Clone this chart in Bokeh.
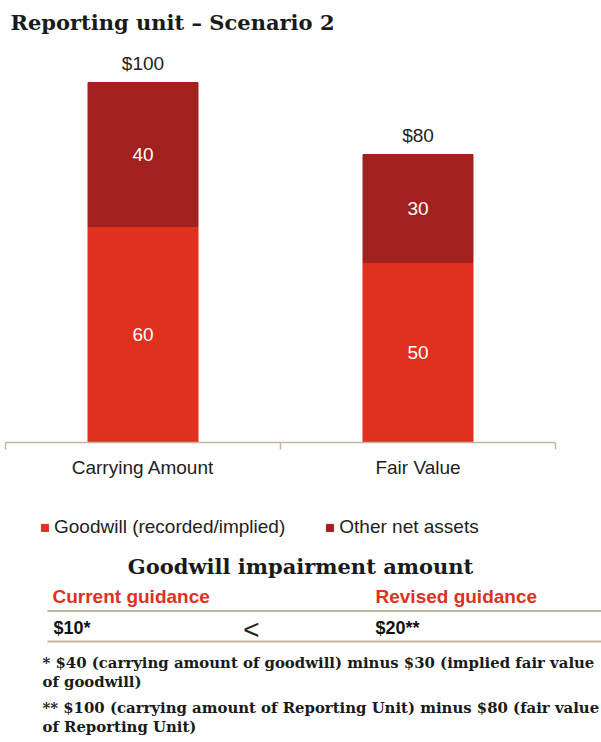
from bokeh.plotting import figure
from bokeh.models import Range1d, FixedTicker, Legend, LegendItem, ColumnDataSource
from bokeh.embed import file_html
from bokeh.resources import INLINE
from bokeh.core.properties import value

# ---- data ----
categories = ["Carrying Amount", "Fair Value"]
goodwill = [60, 50]
other_net_assets = [40, 30]
total_labels = ["$100", "$80"]
series_names = ["Goodwill (recorded/implied)", "Other net assets"]
series_colors = ["#e0301e", "#a32020"]

chart_title = "Reporting unit \u2013 Scenario 2"
table_title = "Goodwill impairment amount"
table_headers = ["Current guidance", "Revised guidance"]
table_values = ["$10*", "$20**"]
comparison = "<"
footnote_lines = [
    "* $40 (carrying amount of goodwill) minus $30 (implied fair value",
    "of goodwill)",
    "** $100 (carrying amount of Reporting Unit) minus $80 (fair value",
    "of Reporting Unit)",
]

SANS = "Liberation Sans"
SERIF = "DejaVu Serif"
TAN = "#c2b899"
W, H = 601, 742
TOP = 40          # frame top (title sits above)
ZERO_Y = 442      # pixel row of the value axis zero
PX_PER_UNIT = 3.6
PX_PER_CAT = 275
LEFT = 5

n = len(categories)
xs = [i + 0.5 for i in range(n)]
totals = [g + o for g, o in zip(goodwill, other_net_assets)]
src = ColumnDataSource(dict(
    x=xs,
    goodwill=goodwill,
    other=other_net_assets,
    total=totals,
    total_label=total_labels,
    gw_mid=[g / 2 for g in goodwill],
    oth_mid=[g + o / 2 for g, o in zip(goodwill, other_net_assets)],
    gw_text=[str(v) for v in goodwill],
    oth_text=[str(v) for v in other_net_assets],
))

p = figure(width=W, height=H, output_backend="svg", toolbar_location=None,
           x_range=Range1d(-LEFT / PX_PER_CAT, (W - LEFT) / PX_PER_CAT),
           y_range=Range1d(-(H - ZERO_Y) / PX_PER_UNIT, (ZERO_Y - TOP) / PX_PER_UNIT),
           min_border_left=0, min_border_right=0, min_border_top=TOP,
           min_border_bottom=0)
# page-like helper ranges for the text block under the chart
p.extra_x_ranges = {"px": Range1d(0, W)}
p.extra_y_ranges = {"py": Range1d(H, TOP)}

p.title.text = chart_title
p.title.text_font = SERIF
p.title.text_font_size = "21px"
p.title.text_font_style = "bold"
p.title.text_color = "#1a1a1a"
p.title.offset = 10
p.title.standoff = 12

rs = p.vbar_stack(["goodwill", "other"], x="x", width=0.4, color=series_colors,
                  source=src)

p.text(x="x", y="total", text="total_label", source=src, text_align="center",
       text_baseline="middle", y_offset=-19.5, text_font=value(SANS),
       text_font_size="19px", text_color="#222222")
p.text(x="x", y="gw_mid", text="gw_text", source=src, text_align="center",
       text_baseline="middle", text_font=value(SANS), text_font_size="19px",
       text_color="white")
p.text(x="x", y="oth_mid", text="oth_text", source=src, text_align="center",
       text_baseline="middle", text_font=value(SANS), text_font_size="19px",
       text_color="white")

p.yaxis.visible = False
p.grid.visible = False
p.outline_line_color = None
ax = p.xaxis[0]
ax.fixed_location = 0
ax.bounds = (0, n)
ax.ticker = FixedTicker(ticks=xs, minor_ticks=list(range(n + 1)))
ax.major_label_overrides = {x: c for x, c in zip(xs, categories)}
ax.axis_line_color = TAN
ax.axis_line_width = 1.5
ax.major_tick_line_color = None
ax.major_tick_out = 0
ax.major_tick_in = 0
ax.minor_tick_out = 7
ax.minor_tick_in = 0
ax.minor_tick_line_color = TAN
ax.minor_tick_line_width = 1.5
ax.major_label_standoff = 7
ax.major_label_text_font = SANS
ax.major_label_text_font_size = "19px"
ax.major_label_text_color = "#222222"

legend = Legend(items=[LegendItem(label=s, renderers=[r]) for s, r in zip(series_names, rs)],
                orientation="horizontal", location=(40, H - 538),
                glyph_width=9, glyph_height=9, label_standoff=5, spacing=40,
                padding=0, margin=0, border_line_color=None,
                background_fill_alpha=0, label_text_font=SANS,
                label_text_font_size="19px", label_text_color="#222222")
p.add_layout(legend)

# ---- impairment table and footnotes ----
T = dict(x_range_name="px", y_range_name="py")
p.text(x=[300], y=[566], text=[table_title], text_align="center",
       text_baseline="middle", text_font=value(SERIF), text_font_size="21px",
       text_font_style="bold", text_color="#1a1a1a", **T)
p.text(x=[52, 375], y=[596, 596], text=table_headers, text_align="left",
       text_baseline="middle", text_font=value(SANS), text_font_size="19px",
       text_font_style="bold", text_color="#e0301e", **T)
p.segment(x0=[47, 47], y0=[610.5, 641], x1=[W, W], y1=[610.5, 641],
          line_color=TAN, line_width=2, **T)
p.text(x=[53, 375], y=[627, 627], text=table_values, text_align="left",
       text_baseline="middle", text_font=value(SANS), text_font_size="18px",
       text_font_style="bold", text_color="#111111", **T)
p.text(x=[251], y=[629], text=[comparison], text_align="center",
       text_baseline="middle", text_font=value(SANS), text_font_size="28px",
       text_color="#222222", **T)
p.text(x=[42, 42, 42, 42], y=[662, 681, 707, 726], text=footnote_lines,
       text_align="left", text_baseline="middle", text_font=value(SERIF),
       text_font_size="14.9px", text_font_style="bold", text_color="#1a1a1a", **T)

open("out.html", "w").write(file_html(p, INLINE))
